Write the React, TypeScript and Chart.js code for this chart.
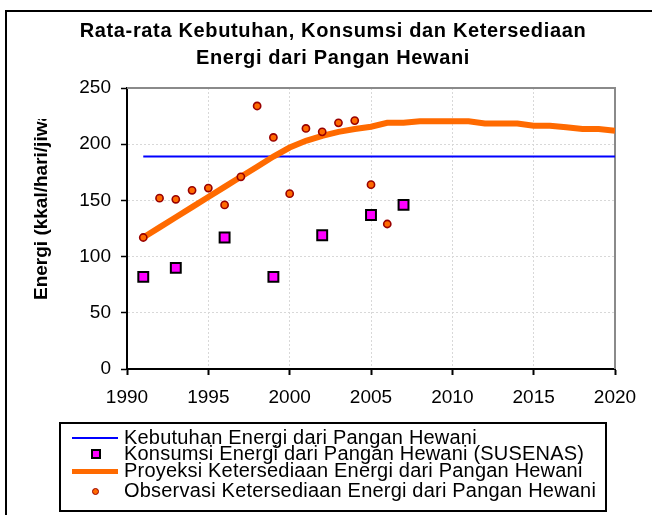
import React, { useEffect, useRef } from "react";
import { Chart, registerables } from "chart.js";

Chart.register(...registerables);

const titleLines = ["Rata-rata Kebutuhan, Konsumsi dan Ketersediaan", "Energi dari Pangan Hewani"];
const yAxisTitle = "Energi (kkal/hari/jiwa)";

const needYears = [1991, 2020];
const needValues = [189, 189];

const susenasYears = [1991, 1993, 1996, 1999, 2002, 2005, 2007];
const susenasValues = [82, 90, 117, 82, 119, 137, 146];

const projYears = [1991, 1992, 1993, 1994, 1995, 1996, 1997, 1998, 1999, 2000, 2001, 2002, 2003, 2004, 2005, 2006, 2007, 2008, 2009, 2010, 2011, 2012, 2013, 2014, 2015, 2016, 2017, 2018, 2019, 2020];
const projValues = [117, 126, 135, 144, 153, 162, 171, 180, 189, 197, 203, 207.5, 211, 213.5, 215.5, 219, 219, 220.5, 220.5, 220.5, 220.5, 218.5, 218.5, 218.5, 216.5, 216.5, 215, 213.5, 213.5, 212];

const obsYears = [1991, 1992, 1993, 1994, 1995, 1996, 1997, 1998, 1999, 2000, 2001, 2002, 2003, 2004, 2005, 2006];
const obsValues = [117, 152, 151, 159, 161, 146, 171, 234, 206, 156, 214, 211, 219, 221, 164, 129];

const legendLabels = [
  "Kebutuhan Energi dari Pangan Hewani",
  "Konsumsi Energi dari Pangan Hewani (SUSENAS)",
  "Proyeksi Ketersediaan Energi dari Pangan Hewani",
  "Observasi Ketersediaan Energi dari Pangan Hewani",
];

const xTicks = { min: 1990, max: 2020, step: 5 };
const yTicks = { min: 0, max: 250, step: 50 };

const FONT = '"Liberation Sans", Arial, sans-serif';

const pts = (xs: number[], ys: number[]) => xs.map((x, i) => ({ x, y: ys[i] }));

export default function App() {
  const ref = useRef<HTMLCanvasElement | null>(null);

  useEffect(() => {
    if (!ref.current) return;
    const framePlugin = {
      id: "framePlugin",
      beforeDatasetsDraw(chart: any) {
        const { ctx, chartArea } = chart;
        ctx.save();
        ctx.strokeStyle = "#8a8a8a";
        ctx.lineWidth = 2;
        ctx.beginPath();
        ctx.moveTo(chartArea.left, chartArea.top);
        ctx.lineTo(chartArea.right, chartArea.top);
        ctx.lineTo(chartArea.right, chartArea.bottom);
        ctx.stroke();
        ctx.restore();
      },
      afterDraw(chart: any) {
        const { ctx } = chart;
        ctx.save();
        ctx.beginPath();
        ctx.rect(0, 119, 120, 300);
        ctx.clip();
        ctx.translate(42, 300);
        ctx.rotate(-Math.PI / 2);
        ctx.textAlign = "left";
        ctx.textBaseline = "middle";
        ctx.fillStyle = "#000";
        ctx.font = `bold 19px ${FONT}`;
        ctx.fillText(yAxisTitle, 0, 0);
        ctx.restore();
      },
    };

    const chart = new Chart(ref.current, {
      type: "scatter",
      data: {
        datasets: [
          {
            label: legendLabels[0],
            data: pts(needYears, needValues),
            showLine: true,
            borderColor: "#0000ff",
            borderWidth: 2,
            pointRadius: 0,
            order: 4,
          },
          {
            label: legendLabels[1],
            data: pts(susenasYears, susenasValues),
            showLine: false,
            pointStyle: "rect",
            pointRadius: 7,
            backgroundColor: "#ff00ff",
            borderColor: "#000000",
            borderWidth: 2,
            order: 2,
          },
          {
            label: legendLabels[2],
            data: pts(projYears, projValues),
            showLine: true,
            borderColor: "#ff6a00",
            borderWidth: 6,
            pointRadius: 0,
            tension: 0,
            order: 3,
          },
          {
            label: legendLabels[3],
            data: pts(obsYears, obsValues),
            showLine: false,
            pointStyle: "circle",
            pointRadius: 3.6,
            backgroundColor: "#ff6a00",
            borderColor: "#990000",
            borderWidth: 1.6,
            order: 1,
          },
        ],
      } as any,
      options: {
        animation: false,
        responsive: false,
        devicePixelRatio: 1,
        layout: { padding: { left: 0, top: 88, right: 37, bottom: 0 } },
        plugins: { legend: { display: false }, title: { display: false }, tooltip: { enabled: false } },
        scales: {
          x: {
            type: "linear",
            min: xTicks.min,
            max: xTicks.max,
            afterFit: (s: any) => { s.height = 146; },
            ticks: {
              stepSize: xTicks.step,
              color: "#000",
              padding: 11,
              font: { family: FONT, size: 19 },
              callback: (v: any) => String(v),
              maxRotation: 0,
            },
            grid: { color: "#d8d8d8", lineWidth: 1, tickLength: 6, tickColor: "#000", tickWidth: 2, tickBorderDash: [] },
            border: { color: "#000", width: 2, dash: [2, 2] },
          },
          y: {
            type: "linear",
            min: yTicks.min,
            max: yTicks.max,
            afterFit: (s: any) => { s.width = 127; },
            ticks: {
              stepSize: yTicks.step,
              color: "#000",
              padding: 10,
              font: { family: FONT, size: 19 },
              callback: (v: any) => String(v),
            },
            grid: { color: "#d8d8d8", lineWidth: 1, tickLength: 6, tickColor: "#000", tickWidth: 1.5, tickBorderDash: [] },
            border: { color: "#000", width: 2, dash: [2, 2] },
          },
        },
      } as any,
      plugins: [framePlugin],
    });
    return () => chart.destroy();
  }, []);

  const rowY = [438, 454, 471, 491];
  const textStyle: React.CSSProperties = {
    position: "absolute",
    left: 124 - 59 - 2,
    fontFamily: FONT,
    fontSize: 20,
    lineHeight: "20px",
    letterSpacing: 0.2,
    whiteSpace: "nowrap",
    color: "#000",
  };

  return (
    <div style={{ position: "fixed", left: 0, top: 0, width: 652, height: 515, overflow: "hidden", background: "#fff" }}>
      <canvas ref={ref} width={652} height={515} style={{ position: "absolute", left: 0, top: 0, width: 652, height: 515 }} />
      <div style={{ position: "absolute", left: 5, top: 10, width: 700, height: 600, border: "2px solid #000", boxSizing: "border-box", pointerEvents: "none" }} />
      {titleLines.map((t, i) => (
        <div
          key={i}
          style={{
            position: "absolute",
            left: 0,
            width: 666,
            top: 19 + i * 27,
            textAlign: "center",
            fontFamily: FONT,
            fontWeight: "bold",
            fontSize: 20,
            lineHeight: "22px",
            letterSpacing: 0.65,
            whiteSpace: "nowrap",
          }}
        >
          {t}
        </div>
      ))}
      <div style={{ position: "absolute", left: 59, top: 422, width: 548, height: 90, border: "2px solid #000", boxSizing: "border-box", background: "#fff" }}>
        <div style={{ position: "absolute", left: 72 - 61, top: rowY[0] - 424 - 1, width: 46, height: 2, background: "#0000ff" }} />
        <div style={{ position: "absolute", left: 91 - 61, top: rowY[1] - 424 - 5, width: 10, height: 10, background: "#ff00ff", border: "2px solid #000", boxSizing: "border-box" }} />
        <div style={{ position: "absolute", left: 72 - 61, top: rowY[2] - 424 - 2.5, width: 46, height: 5, background: "#ff6a00" }} />
        <div style={{ position: "absolute", left: 92 - 61, top: rowY[3] - 424 - 3.5, width: 7, height: 7, borderRadius: "50%", background: "#ff6a00", border: "1.5px solid #990000", boxSizing: "border-box" }} />
        {legendLabels.map((l, i) => (
          <div key={i} style={{ ...textStyle, top: rowY[i] - 424 - 11 }}>{l}</div>
        ))}
      </div>
    </div>
  );
}
